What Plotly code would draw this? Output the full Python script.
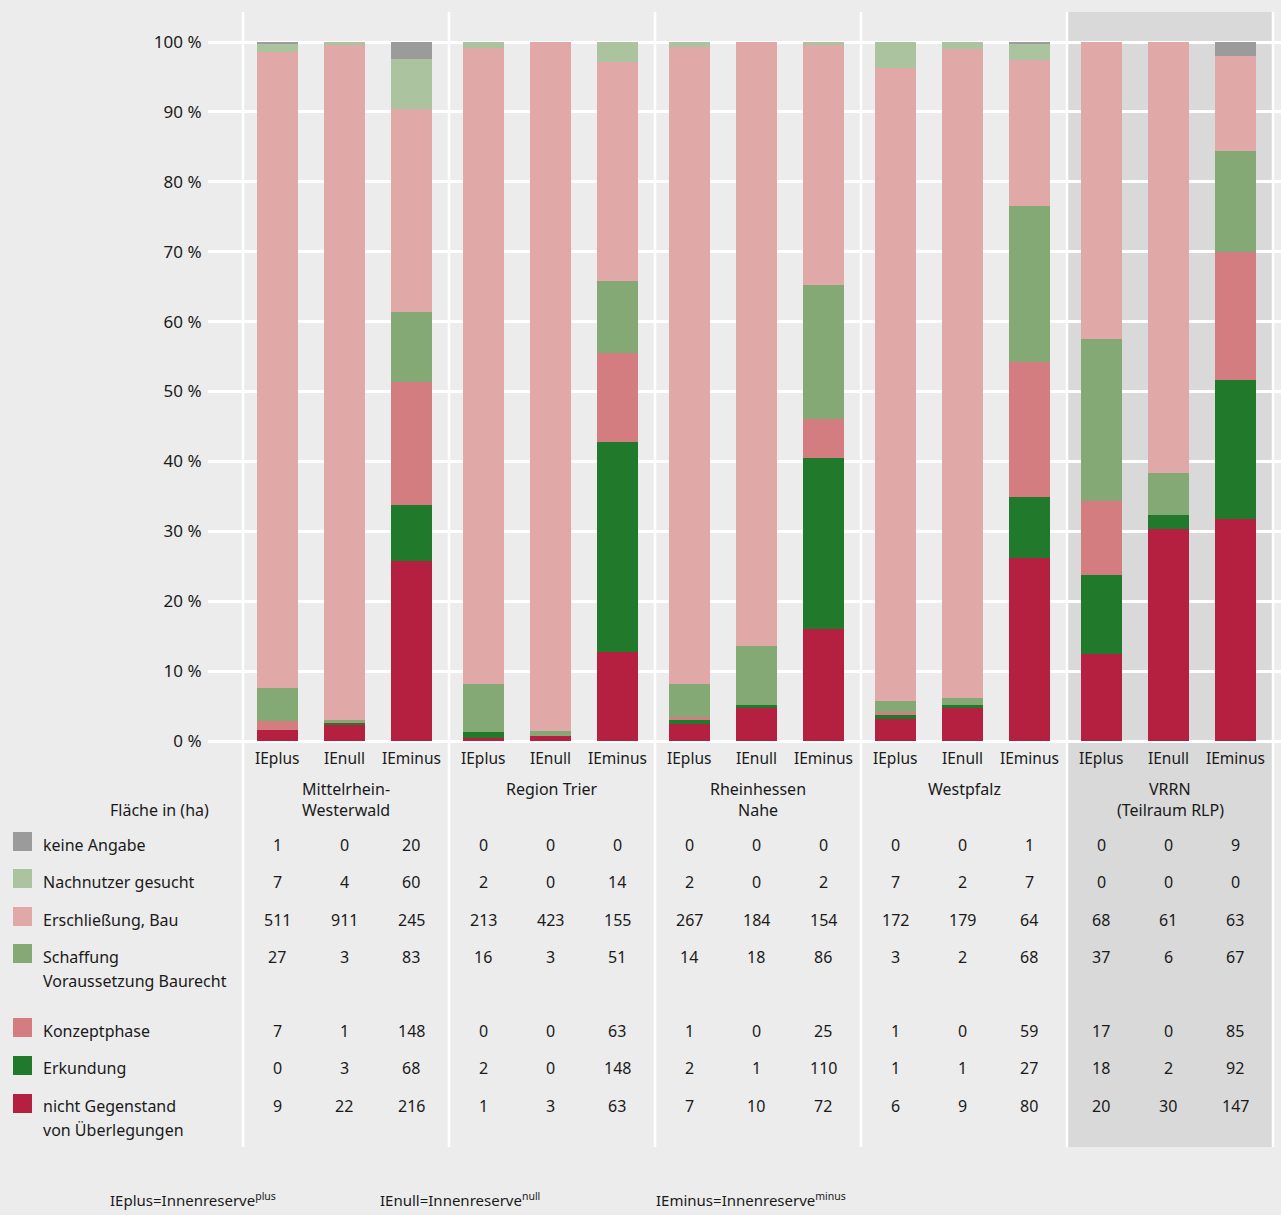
import plotly.graph_objects as go

# ---- data ----
regions = [["Mittelrhein-", "Westerwald"], ["Region Trier"], ["Rheinhessen", "Nahe"],
           ["Westpfalz"], ["VRRN", "(Teilraum RLP)"]]
variants = ["IEplus", "IEnull", "IEminus"]

cat_names = [
    ["keine Angabe"],
    ["Nachnutzer gesucht"],
    ["Erschließung, Bau"],
    ["Schaffung", "Voraussetzung Baurecht"],
    ["Konzeptphase"],
    ["Erkundung"],
    ["nicht Gegenstand", "von Überlegungen"],
]
keine = [1, 0, 20, 0, 0, 0, 0, 0, 0, 0, 0, 1, 0, 0, 9]
nachnutzer = [7, 4, 60, 2, 0, 14, 2, 0, 2, 7, 2, 7, 0, 0, 0]
erschliessung = [511, 911, 245, 213, 423, 155, 267, 184, 154, 172, 179, 64, 68, 61, 63]
schaffung = [27, 3, 83, 16, 3, 51, 14, 18, 86, 3, 2, 68, 37, 6, 67]
konzept = [7, 1, 148, 0, 0, 63, 1, 0, 25, 1, 0, 59, 17, 0, 85]
erkundung = [0, 3, 68, 2, 0, 148, 2, 1, 110, 1, 1, 27, 18, 2, 92]
nicht = [9, 22, 216, 1, 3, 63, 7, 10, 72, 6, 9, 80, 20, 30, 147]

series = [keine, nachnutzer, erschliessung, schaffung, konzept, erkundung, nicht]
colors = ["#9b9b9b", "#abc49f", "#e0a9a8", "#85a974", "#d47d80", "#217a2c", "#b51f40"]

footer = [("IEplus=Innenreserve", "plus"), ("IEnull=Innenreserve", "null"),
          ("IEminus=Innenreserve", "minus")]

# ---- layout helpers ----
W, H = 1281, 1215
PL, PR, PT, PB = 208, 1281, 12, 741   # plot area in px
G0, GW = 243, 206                      # first group boundary, group width (px)
BAR_OFF, BAR_STEP, BAR_W = 34, 67, 41

def xp(p):  # px -> paper x
    return (p - PL) / (PR - PL)

def yp(p):  # px -> paper y
    return (PB - p) / (PB - PT)

def gx(g, j):  # data x of bar centre (group units)
    return g + (BAR_OFF + BAR_STEP * j) / GW

FONT = "Noto Sans, Open Sans, sans-serif"
TXT = "#1a1a1a"
BG = "#ececec"

n = len(keine)
totals = [sum(s[i] for s in series) for i in range(n)]
xs = [gx(i // 3, i % 3) for i in range(n)]

fig = go.Figure()
# bottom to top
for k in reversed(range(len(series))):
    vals = [100.0 * series[k][i] / totals[i] for i in range(n)]
    fig.add_trace(go.Bar(x=xs, y=vals, width=BAR_W / GW, marker=dict(color=colors[k], line=dict(width=0)),
                         name=cat_names[k][0], showlegend=False, hoverinfo="skip"))

shapes = []
# shaded VRRN region
shapes.append(dict(type="rect", xref="paper", yref="paper",
                   x0=xp(G0 + GW * 4 + 1), x1=xp(G0 + GW * 5), y0=yp(1147), y1=yp(12),
                   fillcolor="#d9d9d9", line=dict(width=0), layer="below"))
for g in range(6):
    xx = xp(G0 + GW * g)
    shapes.append(dict(type="line", xref="paper", yref="paper", x0=xx, x1=xx,
                       y0=yp(1147), y1=yp(12), line=dict(color="white", width=2.5), layer="below"))

annotations = []
def ann(text, x, y, xanchor="center", size=16, **kw):
    annotations.append(dict(text=text, x=x, y=y, xref="paper", yref="paper", xanchor=xanchor,
                            yanchor="middle", showarrow=False,
                            font=dict(family=kw.pop("family", FONT), size=size, color=TXT), **kw))

# variant labels + region names
for g in range(len(regions)):
    for j, v in enumerate(variants):
        bx = G0 + GW * g + BAR_OFF + BAR_STEP * j
        ann(v, xp(bx), yp(758), size=15.5)
    cx = G0 + GW * g + GW / 2
    for li, line in enumerate(regions[g]):
        ann(line, xp(cx), yp(789 + 21 * li))

ann("Fläche in (ha)", xp(211), yp(810), xanchor="right")

row_y = [845, 882, 920, 957, 1031, 1068, 1106]
sw_top = [832, 869, 907, 944, 1018, 1056, 1094]
for k in range(len(series)):
    shapes.append(dict(type="rect", xref="paper", yref="paper", x0=xp(13), x1=xp(32),
                       y0=yp(sw_top[k] + 19), y1=yp(sw_top[k]), fillcolor=colors[k],
                       line=dict(width=0)))
    for li, line in enumerate(cat_names[k]):
        ann(line, xp(41), yp(row_y[k] + 24 * li), xanchor="left")
    for i in range(n):
        g, j = i // 3, i % 3
        bx = G0 + GW * g + BAR_OFF + BAR_STEP * j
        ann(str(series[k][i]), xp(bx), yp(row_y[k]))

foot_x = [108, 378, 654]
for (t, s), fx in zip(footer, foot_x):
    ann(f"{t}<sup>{s}</sup>", xp(fx), yp(1199), xanchor="left", size=15,
        family="Liberation Sans Narrow, Noto Sans, sans-serif")

fig.update_layout(
    width=W, height=H,
    margin=dict(l=PL, r=W - PR, t=PT, b=H - PB, pad=0),
    paper_bgcolor=BG, plot_bgcolor="rgba(0,0,0,0)",
    barmode="stack", bargap=0,
    shapes=shapes, annotations=annotations,
    font=dict(family=FONT, size=16, color=TXT),
    xaxis=dict(range=[(PL - G0) / GW, (PR - G0) / GW], showgrid=False, zeroline=False,
               showticklabels=False, ticks="", fixedrange=True),
    yaxis=dict(range=[0, 100 * (PB - PT) / (PB - 42)], tickvals=list(range(0, 101, 10)),
               ticktext=[f"{v} %" for v in range(0, 101, 10)],
               showgrid=True, gridcolor="white", gridwidth=2.5, zeroline=True,
               zerolinecolor="white", zerolinewidth=2.5, ticks="outside", ticklen=2,
               tickcolor="rgba(0,0,0,0)", tickfont=dict(size=17, color=TXT), fixedrange=True),
)

fig.write_html("out.html", config={"displayModeBar": False},
               post_script="document.body.style.margin='0';document.body.style.overflow='hidden';")
